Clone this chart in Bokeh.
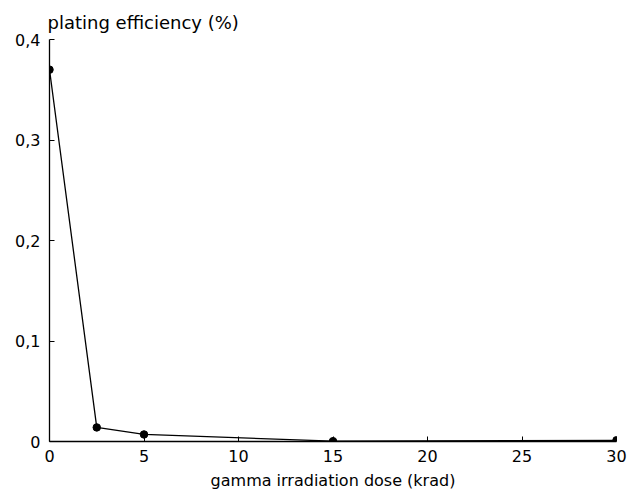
from bokeh.plotting import figure
from bokeh.models import FixedTicker, Range1d
from bokeh.embed import file_html
from bokeh.resources import INLINE

dose = [0, 2.5, 5, 15, 30]
efficiency = [0.370, 0.014, 0.007, 0.0003, 0.0012]
x_ticks = [0, 5, 10, 15, 20, 25, 30]
y_ticks = [0, 0.1, 0.2, 0.3, 0.4]
y_tick_labels = ["0", "0,1", "0,2", "0,3", "0,4"]

FONT = "DejaVu Sans"

p = figure(width=630, height=494, output_backend="svg", toolbar_location=None,
           x_range=Range1d(0, 30), y_range=Range1d(0, 0.4),
           min_border_left=49, min_border_right=14, min_border_top=39, min_border_bottom=53)
p.outline_line_color = None
p.grid.grid_line_color = None
p.background_fill_color = "white"

p.title.text = "plating efficiency (%)"
p.title.text_font = FONT
p.title.text_font_size = "18px"
p.title.text_font_style = "normal"
p.title.text_color = "black"
p.title.align = "left"
p.title.offset = -2
p.title.standoff = 13

p.line(dose, efficiency, line_color="black", line_width=1.3)
p.scatter(dose, efficiency, size=7.5, color="black")

for ax in (p.xaxis[0], p.yaxis[0]):
    ax.axis_line_color = "black"
    ax.axis_line_width = 1.3
    ax.major_tick_in = 5
    ax.major_tick_out = 0
    ax.minor_tick_line_color = None
    ax.major_label_text_font = FONT
    ax.major_label_text_font_size = "16px"
    ax.major_label_text_color = "black"
    ax.major_tick_line_color = "black"

p.xaxis.ticker = FixedTicker(ticks=x_ticks)
p.xaxis.axis_label = "gamma irradiation dose (krad)"
p.xaxis.axis_label_text_font = FONT
p.xaxis.axis_label_text_font_size = "16px"
p.xaxis.axis_label_text_font_style = "normal"
p.xaxis.axis_label_text_color = "black"
p.xaxis.axis_label_standoff = 6
p.xaxis.major_label_standoff = 8

p.yaxis.ticker = FixedTicker(ticks=y_ticks)
p.yaxis.major_label_overrides = {t: l for t, l in zip(y_ticks, y_tick_labels)}
p.yaxis.major_label_standoff = 9

open("out.html", "w").write(file_html(p, INLINE))
